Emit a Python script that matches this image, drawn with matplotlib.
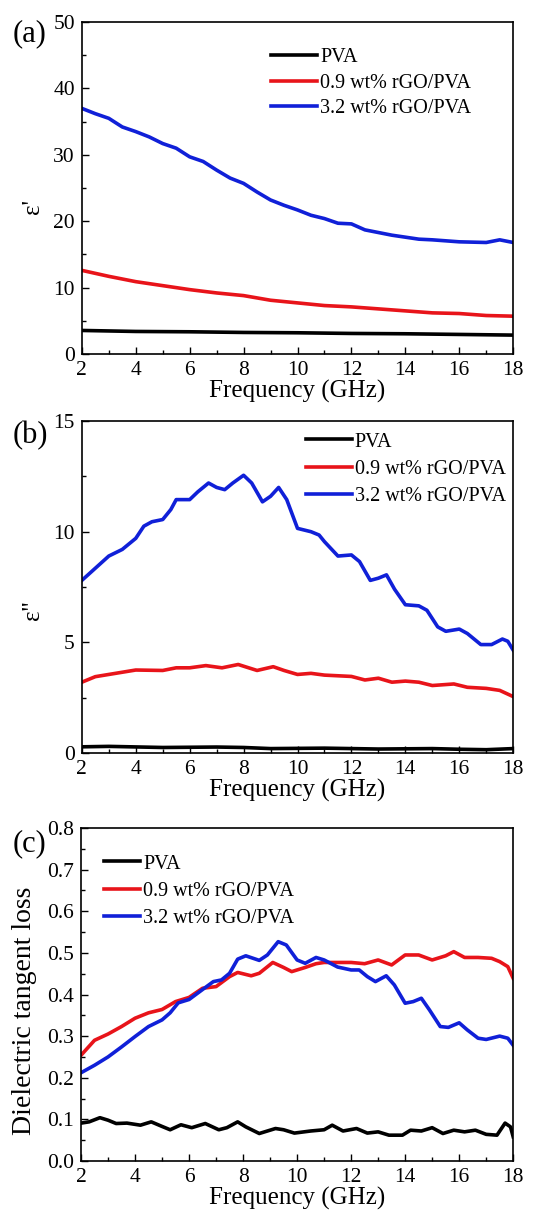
import numpy as np
import matplotlib
matplotlib.use("Agg")
import matplotlib.pyplot as plt
from matplotlib.ticker import MultipleLocator

plt.rcParams['font.family'] = ['Liberation Serif', 'DejaVu Serif']

labels = ['PVA', '0.9 wt% rGO/PVA', '3.2 wt% rGO/PVA']
colors = ['#000000', '#e8141a', '#1020d8']

# (a) real permittivity
a_pva_f = [2, 4, 6, 8, 10, 12, 14, 16, 18]
a_pva = [3.55, 3.4, 3.35, 3.25, 3.2, 3.1, 3.05, 2.95, 2.85]
a_red_f = [2, 3, 4, 5, 6, 7, 8, 9, 10, 11, 12, 13, 14, 15, 16, 17, 18]
a_red = [12.6, 11.7, 10.9, 10.3, 9.7, 9.2, 8.8, 8.1, 7.7, 7.3, 7.1, 6.8, 6.5, 6.2, 6.1, 5.8, 5.7]
a_blue_f = [2, 2.5, 3, 3.5, 4, 4.5, 5, 5.5, 6, 6.5, 7, 7.5, 8, 8.5, 9, 9.5, 10, 10.5,
            11, 11.5, 12, 12.5, 13, 13.5, 14, 14.5, 15, 16, 17, 17.5, 18]
a_blue = [37.0, 36.2, 35.5, 34.2, 33.5, 32.7, 31.7, 31.0, 29.7, 29.0, 27.7, 26.5, 25.7, 24.4,
          23.2, 22.4, 21.7, 20.9, 20.4, 19.7, 19.6, 18.7, 18.3, 17.9, 17.6, 17.3, 17.2, 16.9,
          16.8, 17.2, 16.8]

# (b) imaginary permittivity
b_pva_f = [2, 3, 5, 7, 8, 9, 11, 13, 15, 16, 17, 18]
b_pva = [0.28, 0.3, 0.25, 0.27, 0.25, 0.2, 0.22, 0.18, 0.2, 0.17, 0.15, 0.2]
b_red_f = [2, 2.5, 3, 4, 5, 5.5, 6, 6.6, 7.2, 7.8, 8.5, 9.1, 9.5, 10, 10.5, 11, 12, 12.5,
           13, 13.5, 14, 14.5, 15, 15.8, 16.3, 17, 17.5, 18]
b_red = [3.2, 3.45, 3.55, 3.75, 3.73, 3.85, 3.85, 3.95, 3.85, 4.0, 3.73, 3.9, 3.73, 3.55,
         3.6, 3.52, 3.46, 3.3, 3.38, 3.2, 3.25, 3.2, 3.05, 3.12, 2.97, 2.92, 2.83, 2.55]
b_blue_f = [2, 2.5, 3, 3.5, 4, 4.3, 4.6, 5, 5.3, 5.5, 6, 6.3, 6.7, 7, 7.3, 7.6, 8, 8.3, 8.7,
            9, 9.3, 9.6, 10, 10.5, 10.8, 11, 11.5, 12, 12.3, 12.7, 13, 13.3, 13.6, 14, 14.5,
            14.8, 15.2, 15.5, 16, 16.3, 16.8, 17.2, 17.6, 17.8, 18]
b_blue = [7.8, 8.35, 8.9, 9.2, 9.7, 10.25, 10.45, 10.55, 11.0, 11.45, 11.45, 11.8, 12.2, 12.0,
          11.9, 12.2, 12.55, 12.2, 11.35, 11.6, 12.0, 11.45, 10.15, 10.0, 9.85, 9.55, 8.9,
          8.95, 8.65, 7.8, 7.9, 8.05, 7.4, 6.7, 6.65, 6.45, 5.7, 5.5, 5.6, 5.4, 4.9, 4.9,
          5.15, 5.05, 4.65]

# (c) dielectric tangent loss
c_pva_f = [2, 2.3, 2.7, 3, 3.3, 3.7, 4.2, 4.6, 5, 5.3, 5.7, 6.1, 6.6, 7.1, 7.4, 7.8, 8.1,
           8.6, 9.2, 9.5, 9.9, 10.5, 11, 11.3, 11.7, 12.2, 12.6, 13, 13.4, 13.9, 14.2, 14.6,
           15, 15.4, 15.8, 16.2, 16.6, 17, 17.4, 17.7, 17.9, 18]
c_pva = [0.091, 0.094, 0.104, 0.098, 0.09, 0.091, 0.086, 0.094, 0.083, 0.075, 0.087, 0.08,
         0.09, 0.075, 0.08, 0.094, 0.082, 0.066, 0.078, 0.075, 0.067, 0.072, 0.075, 0.086,
         0.072, 0.078, 0.067, 0.07, 0.062, 0.062, 0.074, 0.072, 0.08, 0.066, 0.074, 0.07,
         0.074, 0.064, 0.062, 0.091, 0.082, 0.058]
c_red_f = [2, 2.5, 3, 3.5, 4, 4.5, 5, 5.5, 6, 6.5, 7, 7.5, 7.8, 8.3, 8.6, 9.1, 9.5, 9.8,
           10.3, 10.7, 11, 11.5, 12, 12.5, 13, 13.5, 14, 14.5, 15, 15.5, 15.8, 16.2, 16.7,
           17.2, 17.5, 17.8, 18]
c_red = [0.254, 0.29, 0.305, 0.323, 0.343, 0.356, 0.364, 0.383, 0.393, 0.415, 0.419, 0.443,
         0.453, 0.445, 0.451, 0.477, 0.465, 0.455, 0.465, 0.474, 0.477, 0.477, 0.477, 0.474,
         0.483, 0.471, 0.495, 0.495, 0.483, 0.493, 0.503, 0.489, 0.489, 0.487, 0.479, 0.467,
         0.439]
c_blue_f = [2, 2.5, 3, 3.5, 4, 4.5, 5, 5.3, 5.6, 6, 6.5, 6.9, 7.2, 7.5, 7.8, 8.1, 8.6, 8.9,
            9.3, 9.6, 10, 10.3, 10.7, 11, 11.5, 12, 12.3, 12.6, 12.9, 13.3, 13.6, 14, 14.3,
            14.6, 14.9, 15.3, 15.6, 16, 16.3, 16.7, 17, 17.5, 17.8, 18]
c_blue = [0.212, 0.23, 0.25, 0.274, 0.299, 0.323, 0.339, 0.356, 0.38, 0.388, 0.412, 0.431,
          0.435, 0.451, 0.485, 0.493, 0.482, 0.495, 0.527, 0.519, 0.483, 0.475, 0.489, 0.483,
          0.466, 0.459, 0.459, 0.443, 0.431, 0.445, 0.423, 0.379, 0.383, 0.391, 0.363, 0.323,
          0.321, 0.332, 0.315, 0.295, 0.292, 0.300, 0.295, 0.278]

panels = [
    dict(rect=[0.148, 0.7079, 0.780, 0.2739], tag='(a)', ylabel="ε'", ylim=(0, 50),
         major=10, minor=5, fmt='{:.0f}', ysize=18,
         series=[(a_pva_f, a_pva), (a_red_f, a_red), (a_blue_f, a_blue)],
         leg=(0.42, 0.945), hl=2.3, ls=0.3, tagpos=(0.022, 0.966), ylab=(-0.088, 0.443)),
    dict(rect=[0.148, 0.3787, 0.780, 0.2739], tag='(b)', ylabel="ε''", ylim=(0, 15),
         major=5, minor=2.5, fmt='{:.0f}', ysize=18,
         series=[(b_pva_f, b_pva), (b_red_f, b_red), (b_blue_f, b_blue)],
         leg=(0.50, 0.99), hl=2.3, ls=0.4, tagpos=(0.022, 0.634), ylab=(-0.088, 0.431)),
    dict(rect=[0.1465, 0.0421, 0.7815, 0.2747], tag='(c)', ylabel='Dielectric tangent loss',
         ylim=(0, 0.8), major=0.1, minor=0.05, fmt='{:.1f}', ysize=20,
         series=[(c_pva_f, c_pva), (c_red_f, c_red), (c_blue_f, c_blue)],
         leg=(0.035, 0.945), hl=1.8, ls=0.4, tagpos=(0.022, 0.298), ylab=(-0.102, 0.452)),
]

fig = plt.figure(figsize=(5.53, 12.12), dpi=100)

for p in panels:
    ax = fig.add_axes(p['rect'])
    for (f, v), c, lab in zip(p['series'], colors, labels):
        ax.plot(f, v, color=c, lw=2.6, label=lab)
    ax.set_xlim(2, 18)
    ax.xaxis.set_major_locator(MultipleLocator(2))
    ax.xaxis.set_minor_locator(MultipleLocator(1))
    ticks = np.arange(p['ylim'][0], p['ylim'][1] + p['major'] / 2, p['major'])
    ax.set_yticks(ticks)
    ax.set_yticklabels([p['fmt'].format(t) for t in ticks])
    ax.yaxis.set_minor_locator(MultipleLocator(p['minor']))
    ax.set_ylim(*p['ylim'])
    ax.tick_params(which='both', direction='in', top=False, right=False, labelsize=15.5, width=1)
    ax.tick_params(which='major', length=5, pad=5)
    ax.tick_params(which='minor', length=3)
    for s in ax.spines.values():
        s.set_linewidth(1.2)
    ax.set_xlabel('Frequency (GHz)', fontsize=18, labelpad=0)
    ax.set_ylabel(p['ylabel'], fontsize=p['ysize'])
    ax.yaxis.set_label_coords(*p['ylab'])
    ax.legend(loc='upper left', bbox_to_anchor=p['leg'], frameon=False, fontsize=14.5,
              handlelength=p['hl'], handletextpad=0.15, labelspacing=p['ls'], borderaxespad=0)
    fig.text(p['tagpos'][0], p['tagpos'][1], p['tag'], fontsize=22)

fig.savefig('out.png', dpi=100)
